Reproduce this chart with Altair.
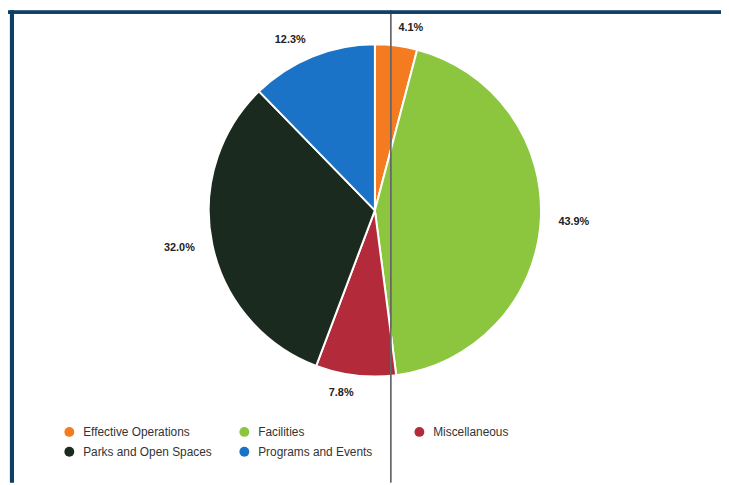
import altair as alt
import pandas as pd

categories = ["Effective Operations", "Facilities", "Miscellaneous",
              "Parks and Open Spaces", "Programs and Events"]
values = [4.1, 43.9, 7.8, 32.0, 12.3]
colors = ["#f47b20", "#8cc63f", "#b32a3a", "#1a2a1e", "#1a73c6"]

df = pd.DataFrame({"category": categories, "value": values,
                   "idx": list(range(len(categories)))})

CX, CY, R = 368, 202, 168
TAU = 6.283185307179586
theta_scale = alt.Scale(domain=[0, 1], range=[0, TAU])

base = (
    alt.Chart(df)
    .transform_window(cum="sum(value)", sort=[{"field": "idx"}])
    .transform_joinaggregate(total="sum(value)")
    .transform_calculate(
        start="(datum.cum - datum.value) / datum.total",
        end="datum.cum / datum.total",
        mid="(datum.cum - datum.value / 2) / datum.total",
        label="format(datum.value, '.1f') + '%'",
    )
)

color = alt.Color(
    "category:N",
    scale=alt.Scale(domain=categories, range=colors),
    legend=alt.Legend(
        title=None, orient="none", legendX=53, legendY=420,
        direction="horizontal",
        columns=3, gridAlign="all", columnPadding=26, rowPadding=8,
        symbolType="circle", symbolSize=100, symbolStrokeWidth=0,
        labelFont="Liberation Sans", labelFontSize=12, labelColor="#333333",
        labelOffset=8, labelLimit=300,
    ),
)

arcs = base.mark_arc(outerRadius=R, stroke="white", strokeWidth=2).encode(
    theta=alt.Theta("start:Q", scale=theta_scale, stack=False),
    theta2="end:Q",
    color=color,
    order=alt.Order("idx:Q"),
    x=alt.value(CX), y=alt.value(CY),
)

text_style = dict(radius=186, fontSize=11, fontWeight="bold",
                  font="Liberation Sans", color="#222222", baseline="middle")

labels_right = base.transform_filter("datum.mid < 0.5").mark_text(
    align="left", **text_style
).encode(
    theta=alt.Theta("mid:Q", scale=theta_scale, stack=False),
    text="label:N",
    x=alt.value(CX), y=alt.value(CY),
)

labels_left = base.transform_filter("datum.mid >= 0.5").mark_text(
    align="right", **text_style
).encode(
    theta=alt.Theta("mid:Q", scale=theta_scale, stack=False),
    text="label:N",
    x=alt.value(CX), y=alt.value(CY),
)

# screenshot artefacts: cursor line and the dark window frame (top and left)
cursor_line = alt.Chart(df).mark_rule(color="#666666", strokeWidth=1).encode(
    x=alt.value(384), y=alt.value(0), y2=alt.value(477)
)
frame_top = alt.Chart(df).mark_rule(color="#0e3f66", strokeWidth=3).encode(
    x=alt.value(-3), x2=alt.value(718), y=alt.value(1.5)
)
frame_left = alt.Chart(df).mark_rule(color="#0e3f66", strokeWidth=4).encode(
    x=alt.value(1), y=alt.value(0), y2=alt.value(477)
)

chart = (
    alt.layer(arcs, labels_right, labels_left, cursor_line, frame_top, frame_left)
    .properties(width=718, height=477,
                padding={"left": 3, "top": 0, "right": 0, "bottom": 0},
                autosize=alt.AutoSizeParams(type="none"))
    .configure_view(stroke=None, fill="white")
)

chart.save("out.html", embed_options={"renderer": "svg", "actions": False})
